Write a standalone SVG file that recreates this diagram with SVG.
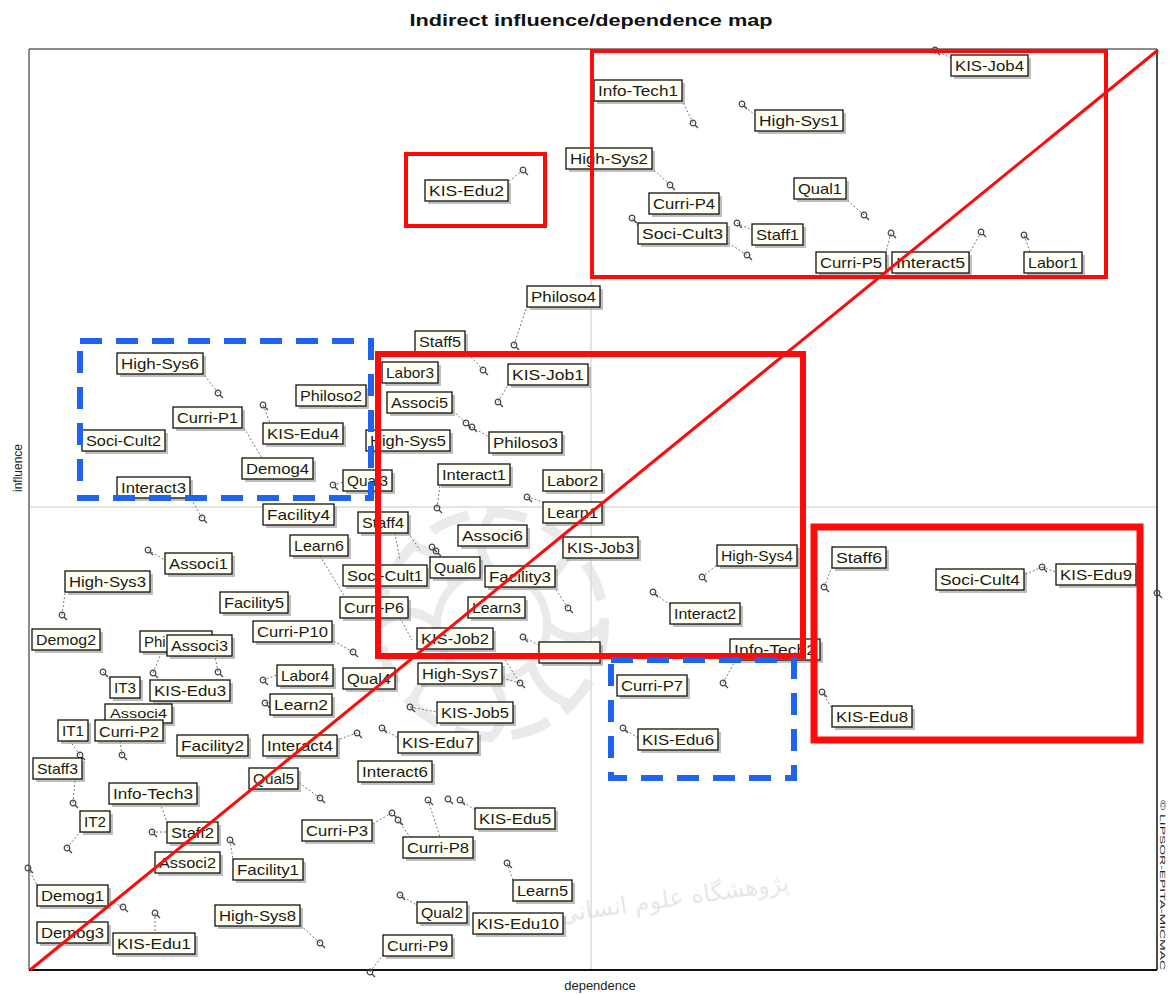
<svg xmlns="http://www.w3.org/2000/svg" xmlns:xlink="http://www.w3.org/1999/xlink" width="1169" height="995" viewBox="0 0 1169 995">
<style>
.sh{fill:#8a8a8a;opacity:.55}
.lb{fill:#fffff4;stroke:#111;stroke-width:1.3}
.t{font-family:"Liberation Sans",Arial,sans-serif;font-size:15px;fill:#1a1a1a;text-anchor:middle}
.pt{fill:none;stroke:#444;stroke-width:1.2}
.ld{stroke:#777;stroke-width:1;stroke-dasharray:2 2;fill:none}
.red{fill:none;stroke:#ff0a0a}
.blue{fill:none;stroke:#1f63f0;stroke-width:6;stroke-dasharray:22 14}
.wm{fill:none;stroke:#dcdcdc}
</style>
<defs>
<g id="pm"><circle class="pt" cx="0" cy="0" r="2.8"/><line x1="2" y1="2" x2="5" y2="5" stroke="#444" stroke-width="1.2"/></g>
</defs>
<rect width="1169" height="995" fill="#ffffff"/>
<text x="591" y="26" font-family="Liberation Sans,Arial,sans-serif" font-size="17" font-weight="bold" text-anchor="middle" textLength="363" lengthAdjust="spacingAndGlyphs" fill="#111">Indirect influence/dependence map</text>
<g id="frame">
<line x1="591" y1="49" x2="591" y2="970" stroke="#c8c8c8" stroke-width="1"/>
<line x1="29" y1="507" x2="1157" y2="507" stroke="#c8c8c8" stroke-width="1"/>
<line x1="29" y1="49" x2="1157" y2="49" stroke="#666" stroke-width="1.5"/>
<line x1="29" y1="49" x2="29" y2="970" stroke="#666" stroke-width="1.5"/>
<line x1="1157" y1="49" x2="1157" y2="970" stroke="#111" stroke-width="1.5"/>
<line x1="29" y1="970" x2="1157" y2="970" stroke="#111" stroke-width="2"/>
</g>
<text x="0" y="0" transform="translate(22,468) rotate(-90)" font-family="Liberation Sans,Arial,sans-serif" font-size="12" text-anchor="middle" fill="#222">influence</text>
<text x="600" y="990" font-family="Liberation Sans,Arial,sans-serif" font-size="13" text-anchor="middle" fill="#222">dependence</text>
<text x="0" y="0" transform="translate(1160,800) rotate(90)" font-family="Liberation Sans,Arial,sans-serif" font-size="8" textLength="170" lengthAdjust="spacingAndGlyphs" fill="#222">© LIPSOR-EPITA-MICMAC</text>
<g id="watermark" opacity="0.6">
<circle class="wm" cx="492" cy="625" r="112" stroke-width="10" stroke-dasharray="40 18"/>
<circle class="wm" cx="492" cy="625" r="55" stroke-width="8"/>
<path class="wm" stroke-width="9" d="M492 513 Q470 545 492 570 M492 680 Q514 710 492 737 M380 625 Q410 600 437 625 M547 625 Q575 650 604 625 M413 546 Q445 555 453 586 M531 664 Q540 695 571 704 M571 546 Q560 578 531 586 M453 664 Q420 672 413 704"/>
<text x="790" y="890" transform="rotate(-8 790 890)" font-family="DejaVu Sans,sans-serif" font-size="24" text-anchor="end" fill="#d4d4d4">پژوهشگاه علوم انسانی</text>
</g>
<g id="connectors">
<path class="ld" d="M935 50 L951 58 M693 123 L682 100 M742 104 L755 115 M670 185 L652 168 M523 170 L508 182 M632 218 L638 226 M737 223 L752 230 M747 255 L727 242 M864 215 L846 199 M891 233 L886 252 M981 232 L969 254 M1024 235 L1030 252 M514 345 L527 306 M483 370 L465 350 M498 402 L508 385 M466 423 L452 410 M472 427 L489 437 M218 393 L203 373 M263 405 L270 423 M244 428 L262 458 M333 485 L343 482 M202 518 L190 497 M437 508 L440 485 M527 497 L543 502 M432 547 L440 557 M148 550 L165 560 M568 608 L555 588 M523 637 L539 645 M702 577 L717 565 M653 592 L670 605 M824 587 L832 567 M1042 567 L1056 572 M1042 567 L1024 575 M723 683 L735 661 M520 683 L502 678 M822 692 L832 708 M623 728 L638 738 M62 615 L65 593 M353 652 L332 640 M263 680 L277 675 M265 703 L270 703 M103 672 L110 680 M153 673 L160 656 M218 672 L215 656 M410 707 L437 712 M382 728 L398 738 M357 733 L337 740 M80 755 L70 741 M122 755 L120 741 M320 798 L298 782 M73 803 L75 780 M152 832 L167 832 M230 840 L233 860 M67 848 L80 832 M28 868 L37 885 M123 907 L108 900 M155 913 L155 933 M320 943 L300 925 M392 813 L372 824 M398 820 L410 837 M428 800 L440 837 M460 800 L475 810 M507 863 L513 880 M400 895 L417 905 M370 972 L383 955 M160 803 L167 822 M320 556 L345 597 M400 618 L412 640 M395 533 L400 560 M408 533 L420 550 M505 660 L520 683"/>
<g id="points">
<use href="#pm" x="935" y="50"/><use href="#pm" x="693" y="123"/><use href="#pm" x="742" y="104"/><use href="#pm" x="670" y="185"/><use href="#pm" x="523" y="170"/><use href="#pm" x="632" y="218"/><use href="#pm" x="737" y="223"/><use href="#pm" x="747" y="255"/><use href="#pm" x="864" y="215"/><use href="#pm" x="891" y="233"/><use href="#pm" x="981" y="232"/><use href="#pm" x="1024" y="235"/><use href="#pm" x="514" y="345"/><use href="#pm" x="483" y="370"/><use href="#pm" x="498" y="402"/><use href="#pm" x="466" y="423"/><use href="#pm" x="472" y="427"/><use href="#pm" x="218" y="393"/><use href="#pm" x="263" y="405"/><use href="#pm" x="333" y="485"/><use href="#pm" x="202" y="518"/><use href="#pm" x="437" y="508"/><use href="#pm" x="527" y="497"/><use href="#pm" x="432" y="547"/><use href="#pm" x="436" y="551"/><use href="#pm" x="148" y="550"/><use href="#pm" x="568" y="608"/><use href="#pm" x="523" y="637"/><use href="#pm" x="702" y="577"/><use href="#pm" x="653" y="592"/><use href="#pm" x="824" y="587"/><use href="#pm" x="1042" y="567"/><use href="#pm" x="1157" y="593"/><use href="#pm" x="723" y="683"/><use href="#pm" x="520" y="683"/><use href="#pm" x="822" y="692"/><use href="#pm" x="623" y="728"/><use href="#pm" x="62" y="615"/><use href="#pm" x="353" y="652"/><use href="#pm" x="263" y="680"/><use href="#pm" x="265" y="703"/><use href="#pm" x="103" y="672"/><use href="#pm" x="153" y="673"/><use href="#pm" x="218" y="672"/><use href="#pm" x="410" y="707"/><use href="#pm" x="357" y="733"/><use href="#pm" x="382" y="728"/><use href="#pm" x="80" y="755"/><use href="#pm" x="122" y="755"/><use href="#pm" x="320" y="798"/><use href="#pm" x="73" y="803"/><use href="#pm" x="152" y="832"/><use href="#pm" x="230" y="840"/><use href="#pm" x="67" y="848"/><use href="#pm" x="28" y="868"/><use href="#pm" x="123" y="907"/><use href="#pm" x="155" y="913"/><use href="#pm" x="320" y="943"/><use href="#pm" x="392" y="813"/><use href="#pm" x="398" y="820"/><use href="#pm" x="428" y="800"/><use href="#pm" x="448" y="799"/><use href="#pm" x="460" y="800"/><use href="#pm" x="507" y="863"/><use href="#pm" x="400" y="895"/><use href="#pm" x="370" y="972"/>
</g>
</g>
<g id="nodes">
<g id="KIS-Job4"><rect class="sh" x="954" y="58" width="77" height="21"/><rect class="lb" x="951" y="55" width="77" height="21"/><text class="t" x="989.5" y="71" textLength="69" lengthAdjust="spacingAndGlyphs">KIS-Job4</text></g>
<g id="Info-Tech1"><rect class="sh" x="597" y="83" width="88" height="21"/><rect class="lb" x="594" y="80" width="88" height="21"/><text class="t" x="638" y="96" textLength="80" lengthAdjust="spacingAndGlyphs">Info-Tech1</text></g>
<g id="High-Sys1"><rect class="sh" x="758" y="113" width="88" height="21"/><rect class="lb" x="755" y="110" width="88" height="21"/><text class="t" x="799" y="126" textLength="80" lengthAdjust="spacingAndGlyphs">High-Sys1</text></g>
<g id="High-Sys2"><rect class="sh" x="569" y="151" width="86" height="21"/><rect class="lb" x="566" y="148" width="86" height="21"/><text class="t" x="609" y="164" textLength="78" lengthAdjust="spacingAndGlyphs">High-Sys2</text></g>
<g id="KIS-Edu2"><rect class="sh" x="428" y="183" width="83" height="21"/><rect class="lb" x="425" y="180" width="83" height="21"/><text class="t" x="466.5" y="196" textLength="75" lengthAdjust="spacingAndGlyphs">KIS-Edu2</text></g>
<g id="Curri-P4"><rect class="sh" x="652" y="196" width="70" height="21"/><rect class="lb" x="649" y="193" width="70" height="21"/><text class="t" x="684" y="209" textLength="62" lengthAdjust="spacingAndGlyphs">Curri-P4</text></g>
<g id="Qual1"><rect class="sh" x="797" y="181" width="52" height="21"/><rect class="lb" x="794" y="178" width="52" height="21"/><text class="t" x="820" y="194" textLength="44" lengthAdjust="spacingAndGlyphs">Qual1</text></g>
<g id="Soci-Cult3"><rect class="sh" x="641" y="226" width="89" height="21"/><rect class="lb" x="638" y="223" width="89" height="21"/><text class="t" x="682.5" y="239" textLength="81" lengthAdjust="spacingAndGlyphs">Soci-Cult3</text></g>
<g id="Staff1"><rect class="sh" x="755" y="227" width="51" height="21"/><rect class="lb" x="752" y="224" width="51" height="21"/><text class="t" x="777.5" y="240" textLength="43" lengthAdjust="spacingAndGlyphs">Staff1</text></g>
<g id="Curri-P5"><rect class="sh" x="819" y="255" width="70" height="21"/><rect class="lb" x="816" y="252" width="70" height="21"/><text class="t" x="851" y="268" textLength="62" lengthAdjust="spacingAndGlyphs">Curri-P5</text></g>
<g id="Interact5"><rect class="sh" x="895" y="255" width="77" height="21"/><rect class="lb" x="892" y="252" width="77" height="21"/><text class="t" x="930.5" y="268" textLength="69" lengthAdjust="spacingAndGlyphs">Interact5</text></g>
<g id="Labor1"><rect class="sh" x="1027" y="255" width="58" height="21"/><rect class="lb" x="1024" y="252" width="58" height="21"/><text class="t" x="1053" y="268" textLength="50" lengthAdjust="spacingAndGlyphs">Labor1</text></g>
<g id="Philoso4"><rect class="sh" x="530" y="289" width="73" height="21"/><rect class="lb" x="527" y="286" width="73" height="21"/><text class="t" x="563.5" y="302" textLength="65" lengthAdjust="spacingAndGlyphs">Philoso4</text></g>
<g id="Staff5"><rect class="sh" x="418" y="334" width="50" height="21"/><rect class="lb" x="415" y="331" width="50" height="21"/><text class="t" x="440" y="347" textLength="42" lengthAdjust="spacingAndGlyphs">Staff5</text></g>
<g id="Labor3"><rect class="sh" x="385" y="365" width="56" height="21"/><rect class="lb" x="382" y="362" width="56" height="21"/><text class="t" x="410" y="378" textLength="48" lengthAdjust="spacingAndGlyphs">Labor3</text></g>
<g id="KIS-Job1"><rect class="sh" x="511" y="367" width="80" height="21"/><rect class="lb" x="508" y="364" width="80" height="21" stroke-width="2"/><text class="t" x="548" y="380" textLength="72" lengthAdjust="spacingAndGlyphs">KIS-Job1</text></g>
<g id="High-Sys6"><rect class="sh" x="120" y="356" width="86" height="21"/><rect class="lb" x="117" y="353" width="86" height="21"/><text class="t" x="160" y="369" textLength="78" lengthAdjust="spacingAndGlyphs">High-Sys6</text></g>
<g id="Philoso2"><rect class="sh" x="299" y="388" width="70" height="21"/><rect class="lb" x="296" y="385" width="70" height="21"/><text class="t" x="331" y="401" textLength="62" lengthAdjust="spacingAndGlyphs">Philoso2</text></g>
<g id="Associ5"><rect class="sh" x="390" y="395" width="65" height="21"/><rect class="lb" x="387" y="392" width="65" height="21"/><text class="t" x="419.5" y="408" textLength="57" lengthAdjust="spacingAndGlyphs">Associ5</text></g>
<g id="Curri-P1"><rect class="sh" x="176" y="410" width="69" height="21"/><rect class="lb" x="173" y="407" width="69" height="21"/><text class="t" x="207.5" y="423" textLength="61" lengthAdjust="spacingAndGlyphs">Curri-P1</text></g>
<g id="KIS-Edu4"><rect class="sh" x="266" y="426" width="80" height="21"/><rect class="lb" x="263" y="423" width="80" height="21"/><text class="t" x="303" y="439" textLength="72" lengthAdjust="spacingAndGlyphs">KIS-Edu4</text></g>
<g id="Soci-Cult2"><rect class="sh" x="85" y="433" width="83" height="21"/><rect class="lb" x="82" y="430" width="83" height="21"/><text class="t" x="123.5" y="446" textLength="75" lengthAdjust="spacingAndGlyphs">Soci-Cult2</text></g>
<g id="High-Sys5"><rect class="sh" x="369" y="433" width="84" height="21"/><rect class="lb" x="366" y="430" width="84" height="21"/><text class="t" x="408" y="446" textLength="76" lengthAdjust="spacingAndGlyphs">High-Sys5</text></g>
<g id="Philoso3"><rect class="sh" x="492" y="435" width="73" height="21"/><rect class="lb" x="489" y="432" width="73" height="21"/><text class="t" x="525.5" y="448" textLength="65" lengthAdjust="spacingAndGlyphs">Philoso3</text></g>
<g id="Demog4"><rect class="sh" x="245" y="461" width="71" height="21"/><rect class="lb" x="242" y="458" width="71" height="21" stroke-width="2"/><text class="t" x="277.5" y="474" textLength="63" lengthAdjust="spacingAndGlyphs">Demog4</text></g>
<g id="Interact1"><rect class="sh" x="441" y="467" width="72" height="21"/><rect class="lb" x="438" y="464" width="72" height="21"/><text class="t" x="474" y="480" textLength="64" lengthAdjust="spacingAndGlyphs">Interact1</text></g>
<g id="Qual3"><rect class="sh" x="346" y="473" width="49" height="21"/><rect class="lb" x="343" y="470" width="49" height="21"/><text class="t" x="367.5" y="486" textLength="41" lengthAdjust="spacingAndGlyphs">Qual3</text></g>
<g id="Labor2"><rect class="sh" x="546" y="473" width="59" height="21"/><rect class="lb" x="543" y="470" width="59" height="21"/><text class="t" x="572.5" y="486" textLength="51" lengthAdjust="spacingAndGlyphs">Labor2</text></g>
<g id="Interact3"><rect class="sh" x="120" y="480" width="73" height="21"/><rect class="lb" x="117" y="477" width="73" height="21"/><text class="t" x="153.5" y="493" textLength="65" lengthAdjust="spacingAndGlyphs">Interact3</text></g>
<g id="Learn1"><rect class="sh" x="546" y="505" width="59" height="21"/><rect class="lb" x="543" y="502" width="59" height="21"/><text class="t" x="572.5" y="518" textLength="51" lengthAdjust="spacingAndGlyphs">Learn1</text></g>
<g id="Facility4"><rect class="sh" x="266" y="507" width="71" height="21"/><rect class="lb" x="263" y="504" width="71" height="21"/><text class="t" x="298.5" y="520" textLength="63" lengthAdjust="spacingAndGlyphs">Facility4</text></g>
<g id="Staff4"><rect class="sh" x="361" y="515" width="50" height="21"/><rect class="lb" x="358" y="512" width="50" height="21"/><text class="t" x="383" y="528" textLength="42" lengthAdjust="spacingAndGlyphs">Staff4</text></g>
<g id="Associ6"><rect class="sh" x="461" y="528" width="69" height="21"/><rect class="lb" x="458" y="525" width="69" height="21"/><text class="t" x="492.5" y="541" textLength="61" lengthAdjust="spacingAndGlyphs">Associ6</text></g>
<g id="Learn6"><rect class="sh" x="293" y="538" width="58" height="21"/><rect class="lb" x="290" y="535" width="58" height="21"/><text class="t" x="319" y="551" textLength="50" lengthAdjust="spacingAndGlyphs">Learn6</text></g>
<g id="KIS-Job3"><rect class="sh" x="566" y="540" width="75" height="21"/><rect class="lb" x="563" y="537" width="75" height="21"/><text class="t" x="600.5" y="553" textLength="67" lengthAdjust="spacingAndGlyphs">KIS-Job3</text></g>
<g id="High-Sys4"><rect class="sh" x="720" y="548" width="80" height="21"/><rect class="lb" x="717" y="545" width="80" height="21"/><text class="t" x="757" y="561" textLength="72" lengthAdjust="spacingAndGlyphs">High-Sys4</text></g>
<g id="Staff6"><rect class="sh" x="835" y="550" width="54" height="21"/><rect class="lb" x="832" y="547" width="54" height="21"/><text class="t" x="859" y="563" textLength="46" lengthAdjust="spacingAndGlyphs">Staff6</text></g>
<g id="Associ1"><rect class="sh" x="168" y="556" width="67" height="21"/><rect class="lb" x="165" y="553" width="67" height="21" stroke-width="2.2"/><text class="t" x="198.5" y="569" textLength="59" lengthAdjust="spacingAndGlyphs">Associ1</text></g>
<g id="Qual6"><rect class="sh" x="433" y="560" width="50" height="21"/><rect class="lb" x="430" y="557" width="50" height="21" stroke-width="2"/><text class="t" x="455" y="573" textLength="42" lengthAdjust="spacingAndGlyphs">Qual6</text></g>
<g id="Soci-Cult1"><rect class="sh" x="346" y="568" width="84" height="21"/><rect class="lb" x="343" y="565" width="84" height="21"/><text class="t" x="385" y="581" textLength="76" lengthAdjust="spacingAndGlyphs">Soci-Cult1</text></g>
<g id="Facility3"><rect class="sh" x="488" y="569" width="70" height="21"/><rect class="lb" x="485" y="566" width="70" height="21"/><text class="t" x="520" y="582" textLength="62" lengthAdjust="spacingAndGlyphs">Facility3</text></g>
<g id="High-Sys3"><rect class="sh" x="68" y="574" width="85" height="21"/><rect class="lb" x="65" y="571" width="85" height="21"/><text class="t" x="107.5" y="587" textLength="77" lengthAdjust="spacingAndGlyphs">High-Sys3</text></g>
<g id="KIS-Edu9"><rect class="sh" x="1059" y="567" width="80" height="21"/><rect class="lb" x="1056" y="564" width="80" height="21"/><text class="t" x="1096" y="580" textLength="72" lengthAdjust="spacingAndGlyphs">KIS-Edu9</text></g>
<g id="Soci-Cult4"><rect class="sh" x="939" y="572" width="88" height="21"/><rect class="lb" x="936" y="569" width="88" height="21"/><text class="t" x="980" y="585" textLength="80" lengthAdjust="spacingAndGlyphs">Soci-Cult4</text></g>
<g id="Facility5"><rect class="sh" x="223" y="595" width="68" height="21"/><rect class="lb" x="220" y="592" width="68" height="21" stroke-width="2"/><text class="t" x="254" y="608" textLength="60" lengthAdjust="spacingAndGlyphs">Facility5</text></g>
<g id="Curri-P6"><rect class="sh" x="343" y="600" width="68" height="21"/><rect class="lb" x="340" y="597" width="68" height="21"/><text class="t" x="374" y="613" textLength="60" lengthAdjust="spacingAndGlyphs">Curri-P6</text></g>
<g id="Learn3"><rect class="sh" x="471" y="600" width="57" height="21"/><rect class="lb" x="468" y="597" width="57" height="21"/><text class="t" x="496.5" y="613" textLength="49" lengthAdjust="spacingAndGlyphs">Learn3</text></g>
<g id="Interact2"><rect class="sh" x="673" y="606" width="70" height="21"/><rect class="lb" x="670" y="603" width="70" height="21"/><text class="t" x="705" y="619" textLength="62" lengthAdjust="spacingAndGlyphs">Interact2</text></g>
<g id="Curri-P10"><rect class="sh" x="256" y="624" width="79" height="21"/><rect class="lb" x="253" y="621" width="79" height="21"/><text class="t" x="292.5" y="637" textLength="71" lengthAdjust="spacingAndGlyphs">Curri-P10</text></g>
<g id="KIS-Job2"><rect class="sh" x="420" y="631" width="76" height="21"/><rect class="lb" x="417" y="628" width="76" height="21"/><text class="t" x="455" y="644" textLength="68" lengthAdjust="spacingAndGlyphs">KIS-Job2</text></g>
<g id="Demog2"><rect class="sh" x="35" y="632" width="68" height="21"/><rect class="lb" x="32" y="629" width="68" height="21"/><text class="t" x="66" y="645" textLength="60" lengthAdjust="spacingAndGlyphs">Demog2</text></g>
<g id="Philoso1"><rect class="sh" x="143" y="634" width="72" height="21"/><rect class="lb" x="140" y="631" width="72" height="21"/><text class="t" x="144" y="647" style="text-anchor:start">Phi</text></g>
<g id="Associ3"><rect class="sh" x="170" y="638" width="65" height="21"/><rect class="lb" x="167" y="635" width="65" height="21"/><text class="t" x="199.5" y="651" textLength="57" lengthAdjust="spacingAndGlyphs">Associ3</text></g>
<g id="hidden-label"><rect class="sh" x="542" y="645" width="61" height="21"/><rect class="lb" x="539" y="642" width="61" height="21"/></g>
<g id="Info-Tech2"><rect class="sh" x="733" y="642" width="90" height="21"/><rect class="lb" x="730" y="639" width="90" height="21"/><text class="t" x="775" y="655" textLength="82" lengthAdjust="spacingAndGlyphs">Info-Tech2</text></g>
<g id="High-Sys7"><rect class="sh" x="421" y="666" width="84" height="21"/><rect class="lb" x="418" y="663" width="84" height="21" stroke-width="2"/><text class="t" x="460" y="679" textLength="76" lengthAdjust="spacingAndGlyphs">High-Sys7</text></g>
<g id="Labor4"><rect class="sh" x="280" y="668" width="56" height="21"/><rect class="lb" x="277" y="665" width="56" height="21"/><text class="t" x="305" y="681" textLength="48" lengthAdjust="spacingAndGlyphs">Labor4</text></g>
<g id="Qual4"><rect class="sh" x="346" y="671" width="52" height="21"/><rect class="lb" x="343" y="668" width="52" height="21"/><text class="t" x="369" y="684" textLength="44" lengthAdjust="spacingAndGlyphs">Qual4</text></g>
<g id="Curri-P7"><rect class="sh" x="620" y="678" width="70" height="21"/><rect class="lb" x="617" y="675" width="70" height="21"/><text class="t" x="652" y="691" textLength="62" lengthAdjust="spacingAndGlyphs">Curri-P7</text></g>
<g id="IT3"><rect class="sh" x="113" y="680" width="30" height="21"/><rect class="lb" x="110" y="677" width="30" height="21" stroke-width="2"/><text class="t" x="125" y="693" textLength="22" lengthAdjust="spacingAndGlyphs">IT3</text></g>
<g id="KIS-Edu3"><rect class="sh" x="153" y="683" width="80" height="21"/><rect class="lb" x="150" y="680" width="80" height="21"/><text class="t" x="190" y="696" textLength="72" lengthAdjust="spacingAndGlyphs">KIS-Edu3</text></g>
<g id="Learn2"><rect class="sh" x="273" y="697" width="62" height="21"/><rect class="lb" x="270" y="694" width="62" height="21" stroke-width="2"/><text class="t" x="301" y="710" textLength="54" lengthAdjust="spacingAndGlyphs">Learn2</text></g>
<g id="KIS-Job5"><rect class="sh" x="440" y="705" width="76" height="21"/><rect class="lb" x="437" y="702" width="76" height="21"/><text class="t" x="475" y="718" textLength="68" lengthAdjust="spacingAndGlyphs">KIS-Job5</text></g>
<g id="KIS-Edu8"><rect class="sh" x="835" y="709" width="80" height="21"/><rect class="lb" x="832" y="706" width="80" height="21"/><text class="t" x="872" y="722" textLength="72" lengthAdjust="spacingAndGlyphs">KIS-Edu8</text></g>
<g id="Associ4"><rect class="sh" x="108" y="707" width="67" height="19"/><rect class="lb" x="105" y="704" width="67" height="19"/><text class="t" x="138.5" y="718" font-size="13" style="font-size:13px" textLength="57" lengthAdjust="spacingAndGlyphs">Associ4</text></g>
<g id="IT1"><rect class="sh" x="61" y="723" width="30" height="21"/><rect class="lb" x="58" y="720" width="30" height="21"/><text class="t" x="73" y="736" textLength="22" lengthAdjust="spacingAndGlyphs">IT1</text></g>
<g id="Curri-P2"><rect class="sh" x="98" y="723" width="68" height="21"/><rect class="lb" x="95" y="720" width="68" height="21"/><text class="t" x="129" y="737" textLength="60" lengthAdjust="spacingAndGlyphs">Curri-P2</text></g>
<g id="KIS-Edu6"><rect class="sh" x="641" y="732" width="80" height="21"/><rect class="lb" x="638" y="729" width="80" height="21"/><text class="t" x="678" y="745" textLength="72" lengthAdjust="spacingAndGlyphs">KIS-Edu6</text></g>
<g id="KIS-Edu7"><rect class="sh" x="401" y="735" width="80" height="21"/><rect class="lb" x="398" y="732" width="80" height="21"/><text class="t" x="438" y="748" textLength="72" lengthAdjust="spacingAndGlyphs">KIS-Edu7</text></g>
<g id="Facility2"><rect class="sh" x="180" y="738" width="71" height="21"/><rect class="lb" x="177" y="735" width="71" height="21" stroke-width="2"/><text class="t" x="212.5" y="751" textLength="63" lengthAdjust="spacingAndGlyphs">Facility2</text></g>
<g id="Interact4"><rect class="sh" x="266" y="738" width="74" height="21"/><rect class="lb" x="263" y="735" width="74" height="21" stroke-width="2"/><text class="t" x="300" y="751" textLength="66" lengthAdjust="spacingAndGlyphs">Interact4</text></g>
<g id="Staff3"><rect class="sh" x="36" y="761" width="49" height="21"/><rect class="lb" x="33" y="758" width="49" height="21"/><text class="t" x="57.5" y="774" textLength="41" lengthAdjust="spacingAndGlyphs">Staff3</text></g>
<g id="Interact6"><rect class="sh" x="361" y="764" width="74" height="21"/><rect class="lb" x="358" y="761" width="74" height="21"/><text class="t" x="395" y="777" textLength="66" lengthAdjust="spacingAndGlyphs">Interact6</text></g>
<g id="Qual5"><rect class="sh" x="252" y="771" width="49" height="21"/><rect class="lb" x="249" y="768" width="49" height="21" stroke-width="2"/><text class="t" x="273.5" y="784" textLength="41" lengthAdjust="spacingAndGlyphs">Qual5</text></g>
<g id="Info-Tech3"><rect class="sh" x="112" y="786" width="88" height="21"/><rect class="lb" x="109" y="783" width="88" height="21"/><text class="t" x="153" y="799" textLength="80" lengthAdjust="spacingAndGlyphs">Info-Tech3</text></g>
<g id="KIS-Edu5"><rect class="sh" x="478" y="811" width="80" height="21"/><rect class="lb" x="475" y="808" width="80" height="21"/><text class="t" x="515" y="824" textLength="72" lengthAdjust="spacingAndGlyphs">KIS-Edu5</text></g>
<g id="IT2"><rect class="sh" x="83" y="814" width="30" height="21"/><rect class="lb" x="80" y="811" width="30" height="21" stroke-width="2"/><text class="t" x="95" y="827" textLength="22" lengthAdjust="spacingAndGlyphs">IT2</text></g>
<g id="Curri-P3"><rect class="sh" x="305" y="823" width="70" height="21"/><rect class="lb" x="302" y="820" width="70" height="21"/><text class="t" x="337" y="836" textLength="62" lengthAdjust="spacingAndGlyphs">Curri-P3</text></g>
<g id="Staff2"><rect class="sh" x="170" y="825" width="51" height="21"/><rect class="lb" x="167" y="822" width="51" height="21"/><text class="t" x="192.5" y="838" textLength="43" lengthAdjust="spacingAndGlyphs">Staff2</text></g>
<g id="Curri-P8"><rect class="sh" x="406" y="840" width="70" height="21"/><rect class="lb" x="403" y="837" width="70" height="21"/><text class="t" x="438" y="853" textLength="62" lengthAdjust="spacingAndGlyphs">Curri-P8</text></g>
<g id="Associ2"><rect class="sh" x="158" y="855" width="65" height="21"/><rect class="lb" x="155" y="852" width="65" height="21" stroke-width="2"/><text class="t" x="187.5" y="868" textLength="57" lengthAdjust="spacingAndGlyphs">Associ2</text></g>
<g id="Facility1"><rect class="sh" x="236" y="862" width="70" height="21"/><rect class="lb" x="233" y="859" width="70" height="21"/><text class="t" x="268" y="875" textLength="62" lengthAdjust="spacingAndGlyphs">Facility1</text></g>
<g id="Learn5"><rect class="sh" x="516" y="883" width="59" height="21"/><rect class="lb" x="513" y="880" width="59" height="21"/><text class="t" x="542.5" y="896" textLength="51" lengthAdjust="spacingAndGlyphs">Learn5</text></g>
<g id="Demog1"><rect class="sh" x="40" y="888" width="71" height="21"/><rect class="lb" x="37" y="885" width="71" height="21"/><text class="t" x="72.5" y="901" textLength="63" lengthAdjust="spacingAndGlyphs">Demog1</text></g>
<g id="Qual2"><rect class="sh" x="420" y="905" width="50" height="21"/><rect class="lb" x="417" y="902" width="50" height="21" stroke-width="2"/><text class="t" x="442" y="918" textLength="42" lengthAdjust="spacingAndGlyphs">Qual2</text></g>
<g id="High-Sys8"><rect class="sh" x="218" y="908" width="85" height="21"/><rect class="lb" x="215" y="905" width="85" height="21"/><text class="t" x="257.5" y="921" textLength="77" lengthAdjust="spacingAndGlyphs">High-Sys8</text></g>
<g id="KIS-Edu10"><rect class="sh" x="476" y="916" width="90" height="21"/><rect class="lb" x="473" y="913" width="90" height="21"/><text class="t" x="518" y="929" textLength="82" lengthAdjust="spacingAndGlyphs">KIS-Edu10</text></g>
<g id="Demog3"><rect class="sh" x="40" y="925" width="71" height="21"/><rect class="lb" x="37" y="922" width="71" height="21"/><text class="t" x="72.5" y="938" textLength="63" lengthAdjust="spacingAndGlyphs">Demog3</text></g>
<g id="KIS-Edu1"><rect class="sh" x="116" y="936" width="82" height="21"/><rect class="lb" x="113" y="933" width="82" height="21"/><text class="t" x="154" y="949" textLength="74" lengthAdjust="spacingAndGlyphs">KIS-Edu1</text></g>
<g id="Curri-P9"><rect class="sh" x="386" y="938" width="69" height="21"/><rect class="lb" x="383" y="935" width="69" height="21"/><text class="t" x="417.5" y="951" textLength="61" lengthAdjust="spacingAndGlyphs">Curri-P9</text></g>
</g>
<g id="highlights">
<line x1="30" y1="970" x2="1158" y2="50" stroke="#ff0a0a" stroke-width="3"/>
<rect class="red" x="592" y="51" width="514" height="226" stroke-width="4"/>
<rect class="red" x="406" y="154" width="139" height="72" stroke-width="4"/>
<rect class="red" x="378" y="354" width="425" height="302" stroke-width="6"/>
<rect class="red" x="814" y="527" width="326" height="213" stroke-width="7"/>
<rect class="blue" x="80" y="341" width="291" height="157"/>
<rect class="blue" x="611" y="660" width="183" height="118"/>
</g>
</svg>
